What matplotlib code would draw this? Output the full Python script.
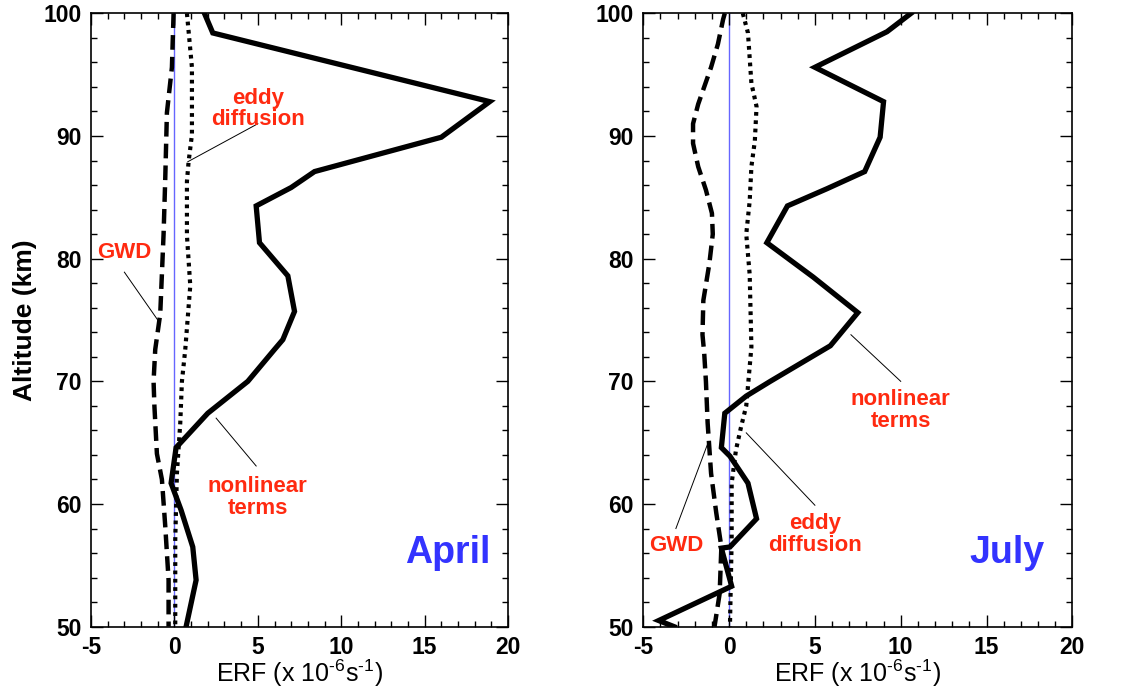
import numpy as np
import matplotlib
matplotlib.use("Agg")
import matplotlib.pyplot as plt
from matplotlib.ticker import MultipleLocator

plt.rcParams['font.family'] = ['Liberation Sans', 'DejaVu Sans']
plt.rcParams['axes.unicode_minus'] = False
plt.rcParams['mathtext.fontset'] = 'custom'
plt.rcParams['mathtext.rm'] = 'Liberation Sans'
plt.rcParams['mathtext.it'] = 'Liberation Sans'
plt.rcParams['mathtext.bf'] = 'Liberation Sans:bold'

# ERF profiles (x 1e-6 s^-1) against altitude (km)
# April
apr_nl_alt = [100, 98.4, 92.8, 89.9, 87.1, 85.8, 84.3, 81.3, 78.6, 75.7, 73.4, 72.6,
              70.0, 67.4, 64.6, 61.7, 59.5, 56.5, 53.8, 51.9, 50.0]
apr_nl_erf = [1.8, 2.3, 18.9, 16.0, 8.4, 7.0, 4.9, 5.1, 6.8, 7.2, 6.5, 6.0,
              4.4, 2.0, 0.1, -0.2, 0.4, 1.1, 1.3, 1.0, 0.7]
apr_gwd_alt = [100, 95.6, 91.9, 86.5, 82.0, 75.5, 72.6, 70.0, 68.0, 64.1, 62.0, 58.2, 53.8, 50.0]
apr_gwd_erf = [-0.05, -0.15, -0.45, -0.55, -0.65, -0.85, -1.15, -1.25, -1.2, -1.05, -0.75, -0.55, -0.35, -0.35]
apr_eddy_alt = [100, 95.6, 90.1, 87.9, 86.3, 81.9, 77.8, 72.6, 70.0, 66.6, 62.5, 57.1, 50.0]
apr_eddy_erf = [0.75, 1.05, 1.05, 0.85, 0.75, 0.75, 0.95, 0.65, 0.45, 0.35, 0.15, 0.05, 0.05]

# July
jul_nl_alt = [100, 98.5, 95.6, 92.8, 89.9, 87.1, 85.7, 84.3, 81.3, 78.5, 75.6, 72.9,
              70.0, 68.8, 67.4, 64.6, 63.9, 61.7, 58.8, 56.5, 56.4, 53.3, 50.5, 50.0]
jul_nl_erf = [10.6, 9.2, 5.0, 9.0, 8.8, 7.9, 5.7, 3.4, 2.2, 4.9, 7.5, 5.9,
              2.4, 1.0, -0.25, -0.45, 0.05, 1.1, 1.6, 0.05, -0.45, 0.15, -4.1, -3.2]
jul_gwd_alt = [100, 99.5, 97.5, 95.6, 94.0, 92.6, 91.0, 89.4, 87.5, 85.6, 83.7, 82.0,
               79.6, 76.6, 73.8, 72.3, 70.0, 66.6, 62.5, 59.3, 56.5, 52.7, 50.0]
jul_gwd_erf = [-0.25, -0.35, -0.65, -1.05, -1.45, -1.8, -2.1, -2.1, -1.8, -1.35, -1.0, -0.95,
               -1.15, -1.5, -1.55, -1.45, -1.35, -1.25, -1.05, -0.75, -0.45, -0.55, -0.85]
jul_eddy_alt = [100, 98.4, 94.3, 92.4, 89.6, 87.5, 84.7, 82.0, 78.7, 72.8, 68.0, 66.3, 64.4, 61.7, 57.1, 50.0]
jul_eddy_erf = [0.8, 1.1, 1.3, 1.6, 1.5, 1.3, 1.2, 1.0, 1.2, 1.3, 1.0, 0.7, 0.4, 0.15, 0.15, 0.05]

red = '#ff2a10'
blue = '#3333ff'
note_size = 16

fig = plt.figure(figsize=(11.25, 6.94), dpi=100)
ax1 = fig.add_axes([0.0809, 0.0970, 0.3707, 0.8838])
ax2 = fig.add_axes([0.5718, 0.0970, 0.3814, 0.8838])


def draw_panel(ax, nl_alt, nl_erf, gwd_alt, gwd_erf, eddy_alt, eddy_erf):
    ax.axvline(0, color='#6666ff', lw=1.0, zorder=1)
    ax.plot(nl_erf, nl_alt, color='black', lw=3.8, solid_joinstyle='miter', zorder=3)
    ax.plot(gwd_erf, gwd_alt, color='black', lw=3.2, dashes=(3.3, 1.6), zorder=3)
    ax.plot(eddy_erf, eddy_alt, color='black', lw=3.0, dashes=(0.9, 1.1), zorder=3)
    ax.set_xlim(-5, 20)
    ax.set_ylim(50, 100)
    ax.xaxis.set_major_locator(MultipleLocator(5))
    ax.xaxis.set_minor_locator(MultipleLocator(1))
    ax.yaxis.set_major_locator(MultipleLocator(10))
    ax.yaxis.set_minor_locator(MultipleLocator(2))
    ax.tick_params(which='both', direction='in', top=True, right=True, width=1.0)
    ax.tick_params(which='major', length=8.5, labelsize=16.5, pad=7)
    ax.tick_params(which='minor', length=4.5)
    for lab in ax.get_xticklabels() + ax.get_yticklabels():
        lab.set_fontweight('bold')
    for sp in ax.spines.values():
        sp.set_linewidth(1.2)
    ax.set_xlabel(r'ERF (x 10$^{\text{-6}}$s$^{\text{-1}}$)', fontsize=18, labelpad=-1)


def leader(ax, x0, y0, x1, y1):
    ax.plot([x0, x1], [y0, y1], color='black', lw=0.7, zorder=2)


def note(ax, x, y, s):
    ax.text(x, y, s, ha='center', va='center', color=red, fontsize=note_size,
            fontweight='bold', linespacing=1.05)


draw_panel(ax1, apr_nl_alt, apr_nl_erf, apr_gwd_alt, apr_gwd_erf, apr_eddy_alt, apr_eddy_erf)
draw_panel(ax2, jul_nl_alt, jul_nl_erf, jul_gwd_alt, jul_gwd_erf, jul_eddy_alt, jul_eddy_erf)

ax1.set_ylabel('Altitude (km)', fontsize=19, fontweight='bold', labelpad=4)

# April labels
note(ax1, 5.0, 92.2, 'eddy\ndiffusion')
leader(ax1, 5.0, 91.0, 0.8, 87.9)
note(ax1, -3.0, 80.5, 'GWD')
leader(ax1, -3.0, 78.9, -1.0, 75.0)
note(ax1, 5.0, 60.5, 'nonlinear\nterms')
leader(ax1, 2.5, 67.0, 4.9, 63.1)
ax1.text(16.4, 56.0, 'April', ha='center', va='center', color=blue, fontsize=27, fontweight='bold')

# July labels
note(ax2, 10.0, 67.6, 'nonlinear\nterms')
leader(ax2, 10.0, 70.0, 7.1, 73.8)
note(ax2, 5.0, 57.5, 'eddy\ndiffusion')
leader(ax2, 5.0, 59.9, 1.0, 65.8)
note(ax2, -3.1, 56.6, 'GWD')
leader(ax2, -3.1, 58.0, -1.25, 64.9)
ax2.text(16.2, 56.0, 'July', ha='center', va='center', color=blue, fontsize=27, fontweight='bold')

fig.savefig('out.png', dpi=100)
